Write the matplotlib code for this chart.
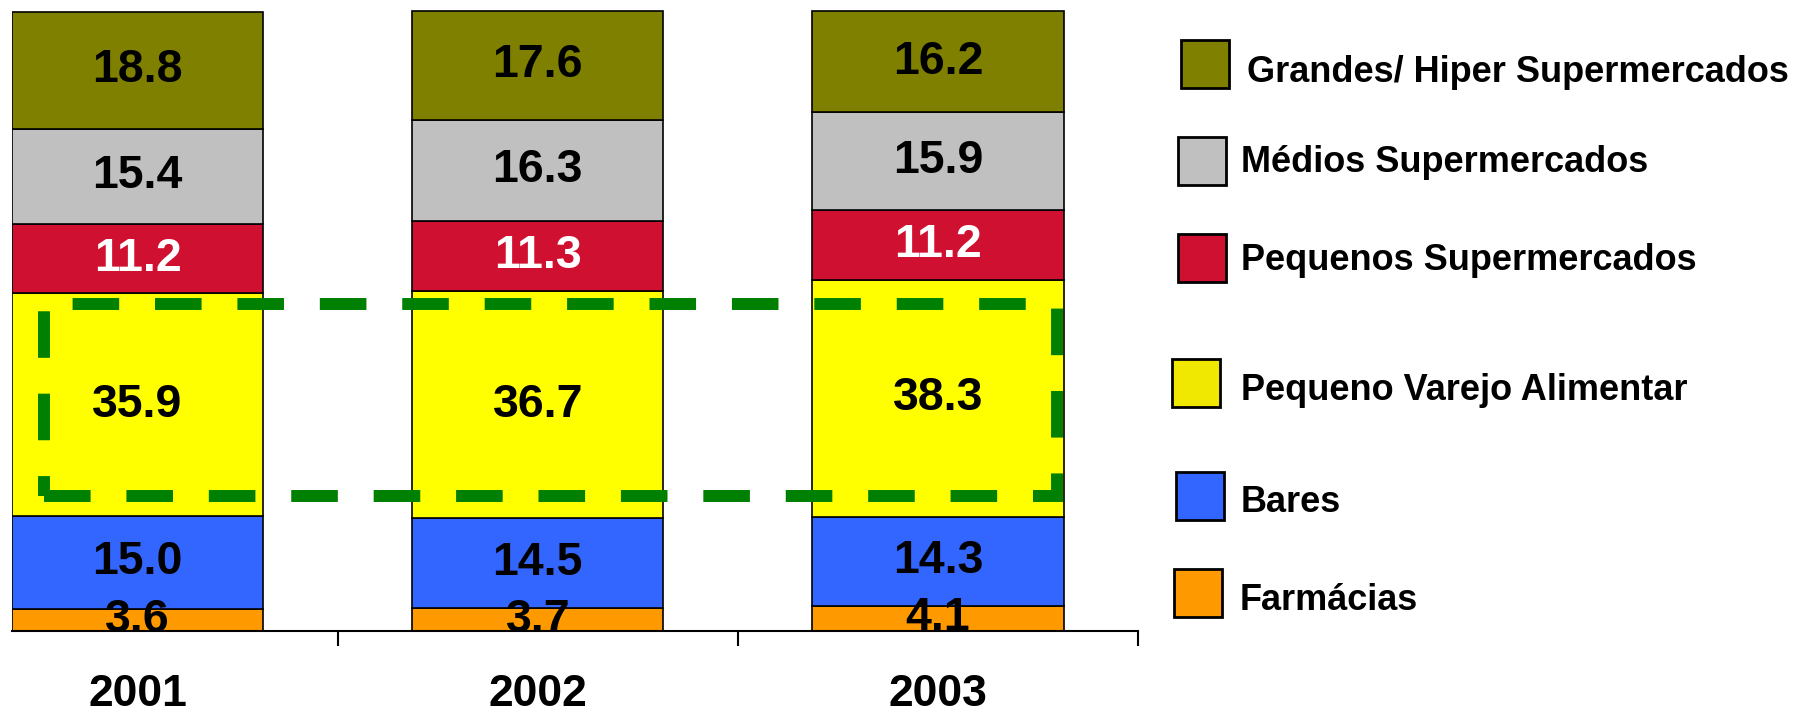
import matplotlib
matplotlib.use("Agg")
import matplotlib.pyplot as plt
from matplotlib.patches import Rectangle

plt.rcParams['font.family'] = ['Liberation Sans', 'DejaVu Sans']
plt.rcParams['font.weight'] = 'bold'

# dados (%), de baixo para cima em cada barra
anos = ['2001', '2002', '2003']
farmacias = [3.6, 3.7, 4.1]
bares = [15.0, 14.5, 14.3]
pequeno_varejo = [35.9, 36.7, 38.3]
pequenos_super = [11.2, 11.3, 11.2]
medios_super = [15.4, 16.3, 15.9]
grandes_hiper = [18.8, 17.6, 16.2]

series = [
    ('Farmácias', farmacias, '#FF9900', 'black'),
    ('Bares', bares, '#3366FF', 'black'),
    ('Pequeno Varejo Alimentar', pequeno_varejo, '#FFFF00', 'black'),
    ('Pequenos Supermercados', pequenos_super, '#D01030', 'white'),
    ('Médios Supermercados', medios_super, '#C0C0C0', 'black'),
    ('Grandes/ Hiper Supermercados', grandes_hiper, '#808000', 'black'),
]

fig = plt.figure(figsize=(18.09, 7.17), dpi=100)
ax = fig.add_axes([12 / 1809, 86 / 717, 1126 / 1809, 631 / 717])

x = list(range(len(anos)))
largura = 0.628
base = [0.0] * len(anos)
for nome, valores, cor, cor_txt in series:
    ax.bar(x, valores, largura, bottom=base, color=cor,
           edgecolor='black', linewidth=1.2)
    for i, v in enumerate(valores):
        ax.text(x[i], base[i] + v / 2, f'{v:.1f}', ha='center', va='center',
                fontsize=33.5, fontweight='bold', color=cor_txt)
    base = [b + v for b, v in zip(base, valores)]

# destaque do pequeno varejo alimentar
destaque = Rectangle((-0.234, 21.8), 2.532, 31.0, fill=False,
                     edgecolor='#008000', linewidth=8.6,
                     linestyle=(0, (3.9, 3.0)), zorder=5)
ax.add_patch(destaque)

ax.set_xlim(-0.314, 2.5)
ax.set_ylim(0, 101.85)
for s in ['left', 'right', 'top']:
    ax.spines[s].set_visible(False)
ax.spines['bottom'].set_linewidth(1.5)
ax.set_yticks([])
ax.set_xticks(x)
ax.set_xticklabels(anos, fontsize=32, fontweight='bold')
ax.tick_params(axis='x', which='major', length=0, pad=31)
ax.set_xticks([0.5, 1.5, 2.5], minor=True)
ax.tick_params(axis='x', which='minor', length=11, width=1.5)

# legenda manual
legenda = [
    ('Grandes/ Hiper Supermercados', '#808000', 1181, 64, 1247, 72),
    ('Médios Supermercados', '#C0C0C0', 1178, 161, 1241, 163),
    ('Pequenos Supermercados', '#D01030', 1178, 258, 1241, 261),
    ('Pequeno Varejo Alimentar', '#F0E800', 1172, 383, 1241, 391),
    ('Bares', '#3366FF', 1176, 496, 1241, 503),
    ('Farmácias', '#FF9900', 1174, 593, 1240, 600),
]
W, H = 1809, 717
lado = 48
for nome, cor, px, py, tx, ty in legenda:
    fig.patches.append(Rectangle((px / W, (H - py - lado / 2) / H), lado / W, lado / H,
                                 facecolor=cor, edgecolor='black', linewidth=2,
                                 transform=fig.transFigure))
    fig.text(tx / W, (H - ty) / H, nome, ha='left', va='center',
             fontsize=26, fontweight='bold')

fig.savefig('out.png', dpi=100)
